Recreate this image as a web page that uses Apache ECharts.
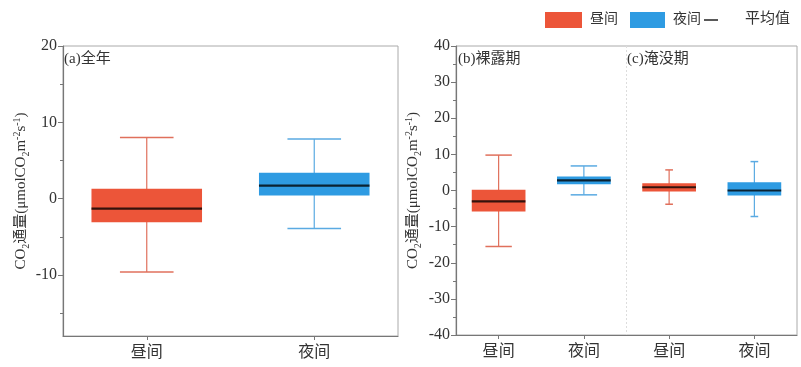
<!DOCTYPE html>
<html><head><meta charset="utf-8">
<script src="https://cdn.jsdelivr.net/npm/echarts@6/dist/echarts.min.js"></script>
<style>html,body{margin:0;padding:0;background:#fff}#c{width:801px;height:367px}</style>
</head><body><div id="c"></div>
<script>
// ---- data (stats order: whisker low, Q1, mean, Q3, whisker high) ----
const categoriesA = ['昼间', '夜间'];
const categoriesBC = ['昼间', '夜间', '昼间', '夜间'];
const ticksA = [-10, 0, 10, 20];
const minorTicksA = [-15, -5, 5, 15];
const statsA_day = [-9.6, -3.1, -1.3, 1.3, 8.0];
const statsA_night = [-3.9, 0.4, 1.7, 3.4, 7.8];
const statsB_day = [-15.5, -5.8, -3.0, 0.2, 9.8];
const statsB_night = [-1.2, 1.7, 2.8, 3.9, 6.8];
const statsC_day = [-3.8, -0.3, 0.9, 2.0, 5.7];
const statsC_night = [-7.2, -1.4, 0.0, 2.3, 8.0];
const panelLabels = ['(a)全年', '(b)裸露期', '(c)淹没期'];
const legendLabels = ['昼间', '夜间', '平均值'];

// ---- style ----
const RED = '#EC5539', BLUE = '#2E9BE2';
const RED_W = '#E0705C', BLUE_W = '#5AAAE2';
const FONT = "'Liberation Serif', 'Noto Sans CJK SC', serif";
const TXT = '#333';

function makeRender(boxRatio, capRatio, fill, whisker, divider) {
  return function (params, api) {
    const x = api.value(0);
    const pLow = api.coord([x, api.value(1)]);
    const pQ1 = api.coord([x, api.value(2)]);
    const pMean = api.coord([x, api.value(3)]);
    const pQ3 = api.coord([x, api.value(4)]);
    const pHigh = api.coord([x, api.value(5)]);
    const band = api.size([1, 0])[0];
    const bw = band * boxRatio, cw = band * capRatio;
    const cx = pLow[0];
    const ch = [];
    if (divider) {
      const cs = params.coordSys;
      ch.push({type: 'line', shape: {x1: cx - band / 2, y1: cs.y, x2: cx - band / 2, y2: cs.y + cs.height},
        style: {stroke: '#ddd', lineWidth: 1, lineDash: [2, 2]}});
    }
    ch.push({type: 'line', shape: {x1: cx, y1: pLow[1], x2: cx, y2: pHigh[1]}, style: {stroke: whisker, lineWidth: 1.2}});
    ch.push({type: 'line', shape: {x1: cx - cw / 2, y1: pLow[1], x2: cx + cw / 2, y2: pLow[1]}, style: {stroke: whisker, lineWidth: 1.5}});
    ch.push({type: 'line', shape: {x1: cx - cw / 2, y1: pHigh[1], x2: cx + cw / 2, y2: pHigh[1]}, style: {stroke: whisker, lineWidth: 1.5}});
    ch.push({type: 'rect', shape: {x: cx - bw / 2, y: pQ3[1], width: bw, height: pQ1[1] - pQ3[1]}, style: {fill: fill}});
    ch.push({type: 'line', shape: {x1: cx - bw / 2, y1: pMean[1], x2: cx + bw / 2, y2: pMean[1]}, style: {stroke: 'rgba(0,0,0,0.78)', lineWidth: 2.2}});
    return {type: 'group', children: ch};
  };
}

const yName = 'CO{sub|2}通量(μmolCO{sub|2}m{sup|-2}s{sup|-1})';
const yNameStyle = {
  fontFamily: FONT, fontSize: 15, color: TXT, lineHeight: 19,
  rich: {sub: {fontSize: 10, fontFamily: FONT, color: TXT, verticalAlign: 'bottom', lineHeight: 19},
         sup: {fontSize: 10, fontFamily: FONT, color: TXT, verticalAlign: 'top', lineHeight: 19}}
};
const axisLine = {show: true, onZero: false, lineStyle: {color: '#777', width: 1.2}};
const labelStyle = {fontFamily: FONT, fontSize: 16, color: TXT};

const chart = echarts.init(document.getElementById('c'));
chart.setOption({
  animation: false,
  grid: [
    {left: 63, top: 46, width: 335, height: 290, show: true, borderColor: '#aaa', borderWidth: 1},
    {left: 456, top: 46, width: 341, height: 289, show: true, borderColor: '#aaa', borderWidth: 1}
  ],
  xAxis: [
    {type: 'category', gridIndex: 0, data: categoriesA, axisLine: axisLine,
      axisTick: {show: true, alignWithLabel: true, length: 4, lineStyle: {color: '#777'}},
      axisLabel: {fontFamily: FONT, fontSize: 16, color: TXT, margin: 9}},
    {type: 'category', gridIndex: 1, data: categoriesBC, axisLine: axisLine,
      axisTick: {show: true, alignWithLabel: true, length: 4, lineStyle: {color: '#777'}},
      axisLabel: {fontFamily: FONT, fontSize: 16, color: TXT, margin: 9}}
  ],
  yAxis: [
    {type: 'value', gridIndex: 0, position: 'left', min: -18, max: 20, splitLine: {show: false}, axisLine: axisLine,
      axisTick: {show: true, length: 5, customValues: ticksA, lineStyle: {color: '#777'}},
      axisLabel: Object.assign({customValues: ticksA, margin: 6}, labelStyle),
      name: yName, nameLocation: 'middle', nameRotate: 90, nameGap: 32, nameTextStyle: yNameStyle},
    {type: 'value', gridIndex: 0, position: 'left', offset: 0, min: -18, max: 20, splitLine: {show: false}, axisLine: {show: false},
      axisTick: {show: true, length: 3, customValues: minorTicksA, lineStyle: {color: '#777'}},
      axisLabel: {show: false, customValues: minorTicksA}},
    {type: 'value', gridIndex: 1, min: -40, max: 40, interval: 10, splitLine: {show: false}, axisLine: axisLine,
      axisTick: {show: true, length: 5, lineStyle: {color: '#777'}},
      minorTick: {show: true, splitNumber: 2, length: 3, lineStyle: {color: '#777'}},
      axisLabel: Object.assign({margin: 6}, labelStyle),
      name: yName, nameLocation: 'middle', nameRotate: 90, nameGap: 33, nameTextStyle: yNameStyle}
  ],
  series: [
    {type: 'custom', name: '昼间', xAxisIndex: 0, yAxisIndex: 0, encode: {x: 0, y: [1, 2, 3, 4, 5]},
      renderItem: makeRender(0.66, 0.32, RED, RED_W, false), data: [[0].concat(statsA_day)]},
    {type: 'custom', name: '夜间', xAxisIndex: 0, yAxisIndex: 0, encode: {x: 0, y: [1, 2, 3, 4, 5]},
      renderItem: makeRender(0.66, 0.32, BLUE, BLUE_W, false), data: [[1].concat(statsA_night)]},
    {type: 'custom', name: '昼间', xAxisIndex: 1, yAxisIndex: 2, encode: {x: 0, y: [1, 2, 3, 4, 5]},
      renderItem: makeRender(0.63, 0.31, RED, RED_W, false), data: [[0].concat(statsB_day)]},
    {type: 'custom', name: '夜间', xAxisIndex: 1, yAxisIndex: 2, encode: {x: 0, y: [1, 2, 3, 4, 5]},
      renderItem: makeRender(0.63, 0.31, BLUE, BLUE_W, false), data: [[1].concat(statsB_night)]},
    {type: 'custom', name: '昼间', xAxisIndex: 1, yAxisIndex: 2, encode: {x: 0, y: [1, 2, 3, 4, 5]},
      renderItem: makeRender(0.63, 0.09, RED, RED_W, true), data: [[2].concat(statsC_day)]},
    {type: 'custom', name: '夜间', xAxisIndex: 1, yAxisIndex: 2, encode: {x: 0, y: [1, 2, 3, 4, 5]},
      renderItem: makeRender(0.63, 0.09, BLUE, BLUE_W, false), data: [[3].concat(statsC_night)]}
  ],
  graphic: [
    {type: 'text', left: 64, top: 52, style: {text: panelLabels[0], font: '15px ' + FONT, fill: TXT}},
    {type: 'text', left: 458, top: 52, style: {text: panelLabels[1], font: '15px ' + FONT, fill: TXT}},
    {type: 'text', left: 627, top: 52, style: {text: panelLabels[2], font: '15px ' + FONT, fill: TXT}},
    // legend
    {type: 'rect', shape: {x: 545, y: 12, width: 37, height: 16}, style: {fill: RED}},
    {type: 'text', left: 590, top: 12, style: {text: legendLabels[0], font: '14px ' + FONT, fill: TXT}},
    {type: 'rect', shape: {x: 630, y: 12, width: 35, height: 16}, style: {fill: BLUE}},
    {type: 'text', left: 673, top: 12, style: {text: legendLabels[1], font: '14px ' + FONT, fill: TXT}},
    {type: 'line', shape: {x1: 704, y1: 20, x2: 718, y2: 20}, style: {stroke: '#222', lineWidth: 1.5}},
    {type: 'text', left: 745, top: 12, style: {text: legendLabels[2], font: '15px ' + FONT, fill: TXT, letterSpacing: 2}}
  ]
});
</script></body></html>
